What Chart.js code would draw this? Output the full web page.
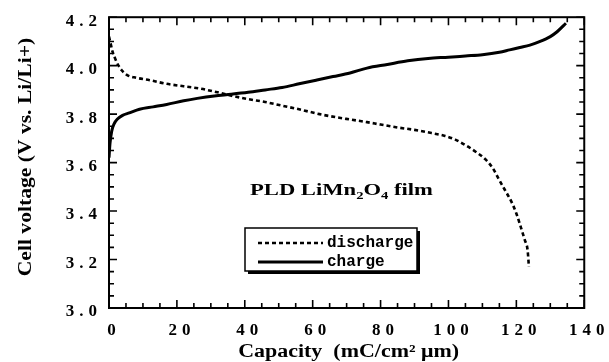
<!DOCTYPE html>
<html>
<head>
<meta charset="utf-8">
<script src="https://cdn.jsdelivr.net/npm/chart.js@4.4.1/dist/chart.umd.min.js"></script>
<style>
html,body{margin:0;padding:0;background:#fff;}
#wrap{width:609px;height:362px;}
</style>
</head>
<body>
<div id="wrap"><canvas id="c" width="609" height="362"></canvas></div>
<script>
// ---- data ----
const capacityCharge = [0, 0.3, 0.8, 1.5, 2.5, 4, 6, 9, 13, 17, 22, 26, 31, 36, 41, 46, 51, 56, 61, 66, 71, 76, 82, 88, 94, 100, 105, 110, 115, 118, 121, 124, 127, 130, 132, 134.6];
const voltageCharge  = [3.62, 3.68, 3.73, 3.76, 3.78, 3.795, 3.805, 3.82, 3.83, 3.84, 3.855, 3.865, 3.875, 3.882, 3.89, 3.90, 3.91, 3.925, 3.94, 3.955, 3.97, 3.99, 4.005, 4.02, 4.03, 4.035, 4.04, 4.045, 4.055, 4.065, 4.075, 4.085, 4.10, 4.12, 4.14, 4.175];
const capacityDischarge = [0, 0.5, 1, 1.8, 2.8, 3.8, 5.5, 8, 12, 17, 22, 27, 32, 36.4, 41, 46, 51, 56, 62, 67, 71, 76, 80, 85, 90, 95, 99, 102, 105, 108, 111, 113, 114.7, 116.5, 118.5, 120, 121.4, 122.5, 123.3, 123.7];
const voltageDischarge  = [4.12, 4.09, 4.06, 4.03, 4.0, 3.98, 3.96, 3.95, 3.94, 3.925, 3.915, 3.905, 3.89, 3.875, 3.862, 3.85, 3.835, 3.82, 3.80, 3.787, 3.778, 3.767, 3.757, 3.745, 3.735, 3.722, 3.71, 3.695, 3.672, 3.645, 3.612, 3.578, 3.535, 3.49, 3.44, 3.39, 3.33, 3.28, 3.24, 3.17];
const seriesNames = ["discharge", "charge"];
const xAxisTitle = "Capacity  (mC/cm\u00B2 \u03BCm)";
const yAxisTitle = "Cell voltage (V vs. Li/Li+)";
const xMin = 0, xMax = 140, xStep = 20, xMinor = 5;
const yMin = 3.0, yMax = 4.2, yStep = 0.2, yMinor = 0.05;

const toPoints = (xs, ys) => xs.map((x, i) => ({x: x, y: ys[i]}));

const frameTicks = {
  id: 'frameTicks',
  beforeDraw(chart) { chart.ctx.letterSpacing = '5px'; },
  beforeDatasetsDraw(chart) { chart.ctx.letterSpacing = '0px'; },
  afterDraw(chart) {
    const ctx = chart.ctx, a = chart.chartArea;
    const xs = chart.scales.x, ys = chart.scales.y;
    ctx.save();
    ctx.letterSpacing = '0px';
    ctx.strokeStyle = '#000';
    ctx.lineWidth = 2;
    ctx.strokeRect(a.left, a.top, a.right - a.left, a.bottom - a.top);
    ctx.lineWidth = 1.6;
    ctx.beginPath();
    const nx = Math.round((xMax - xMin) / xMinor);
    for (let i = 0; i <= nx; i++) {
      const v = xMin + i * xMinor;
      const px = xs.getPixelForValue(v);
      const len = (i % Math.round(xStep / xMinor) === 0) ? 8 : 5;
      ctx.moveTo(px, a.bottom); ctx.lineTo(px, a.bottom - len);
      ctx.moveTo(px, a.top); ctx.lineTo(px, a.top + len);
    }
    const ny = Math.round((yMax - yMin) / yMinor);
    for (let i = 0; i <= ny; i++) {
      const v = yMin + i * yMinor;
      const py = ys.getPixelForValue(v);
      const len = (i % Math.round(yStep / yMinor) === 0) ? 8 : 5;
      ctx.moveTo(a.left, py); ctx.lineTo(a.left + len, py);
      ctx.moveTo(a.right, py); ctx.lineTo(a.right - len, py);
    }
    ctx.stroke();

    // axis titles
    ctx.fillStyle = '#000';
    ctx.font = 'bold 18px "Liberation Serif"';
    ctx.textAlign = 'center';
    ctx.textBaseline = 'alphabetic';
    ctx.save();
    ctx.translate((a.left + a.right) / 2 + 2, 357);
    ctx.scale(1.22, 1);
    ctx.fillText(xAxisTitle, 0, 0);
    ctx.restore();
    ctx.save();
    ctx.translate(31, 157);
    ctx.rotate(-Math.PI / 2);
    ctx.scale(1.2, 1);
    ctx.fillText(yAxisTitle, 0, 0);
    ctx.restore();

    // annotation "PLD LiMn2O4 film"
    ctx.save();
    ctx.translate(250, 195);
    ctx.scale(1.33, 1);
    ctx.textAlign = 'left';
    const parts = [["PLD LiMn", 17, 0], ["2", 11, 4], ["O", 17, 0], ["4", 11, 4], [" film", 17, 0]];
    let cx = 0;
    for (const [t, sz, dy] of parts) {
      ctx.font = 'bold ' + sz + 'px "Liberation Serif"';
      ctx.fillText(t, cx, dy);
      cx += ctx.measureText(t).width;
    }
    ctx.restore();

    // legend box
    const L = 245, T = 228, W = 172, H = 43;
    ctx.fillStyle = '#000';
    ctx.fillRect(L + 3, T + 3, W, H);
    ctx.fillStyle = '#fff';
    ctx.fillRect(L, T, W, H);
    ctx.strokeStyle = '#000';
    ctx.lineWidth = 1.5;
    ctx.strokeRect(L, T, W, H);
    const ds = chart.data.datasets;
    const rows = [T + 15, T + 34];
    for (let k = 0; k < 2; k++) {
      ctx.beginPath();
      ctx.setLineDash(ds[k].borderDash || []);
      ctx.lineWidth = ds[k].borderWidth;
      ctx.moveTo(L + 13, rows[k]); ctx.lineTo(L + 78, rows[k]);
      ctx.stroke();
      ctx.setLineDash([]);
      ctx.fillStyle = '#000';
      ctx.font = 'bold 16px "Liberation Mono"';
      ctx.textAlign = 'left';
      ctx.textBaseline = 'middle';
      ctx.fillText(ds[k].label, L + 82, rows[k]);
    }
    ctx.restore();
  }
};

new Chart(document.getElementById('c'), {
  type: 'scatter',
  data: {
    datasets: [
      {
        label: seriesNames[0],
        data: toPoints(capacityDischarge, voltageDischarge),
        showLine: true,
        borderColor: '#000',
        borderWidth: 2.6,
        borderDash: [4, 3],
        pointRadius: 0,
        cubicInterpolationMode: 'monotone',
        fill: false
      },
      {
        label: seriesNames[1],
        data: toPoints(capacityCharge, voltageCharge),
        showLine: true,
        borderColor: '#000',
        borderWidth: 3,
        pointRadius: 0,
        cubicInterpolationMode: 'monotone',
        fill: false
      }
    ]
  },
  options: {
    responsive: false,
    animation: false,
    devicePixelRatio: 1,
    layout: { padding: { top: 15, right: 23, left: 0, bottom: 0 } },
    plugins: { legend: { display: false }, tooltip: { enabled: false } },
    scales: {
      x: {
        type: 'linear',
        min: xMin, max: xMax,
        grid: { display: false, drawTicks: false },
        border: { display: false },
        ticks: {
          stepSize: xStep,
          padding: 12,
          labelOffset: 5,
          color: '#000',
          font: { family: 'Liberation Serif', size: 17, weight: 'bold' },
          maxRotation: 0,
          callback: v => String(v)
        },
        afterFit(s) { s.height = 54; }
      },
      y: {
        type: 'linear',
        min: yMin, max: yMax,
        grid: { display: false, drawTicks: false },
        border: { display: false },
        ticks: {
          stepSize: yStep,
          padding: 7,
          labelOffset: 4,
          color: '#000',
          font: { family: 'Liberation Serif', size: 17, weight: 'bold' },
          callback: v => Number(v).toFixed(1)
        },
        afterFit(s) { s.width = 109; }
      }
    }
  },
  plugins: [frameTicks]
});
</script>
</body>
</html>
